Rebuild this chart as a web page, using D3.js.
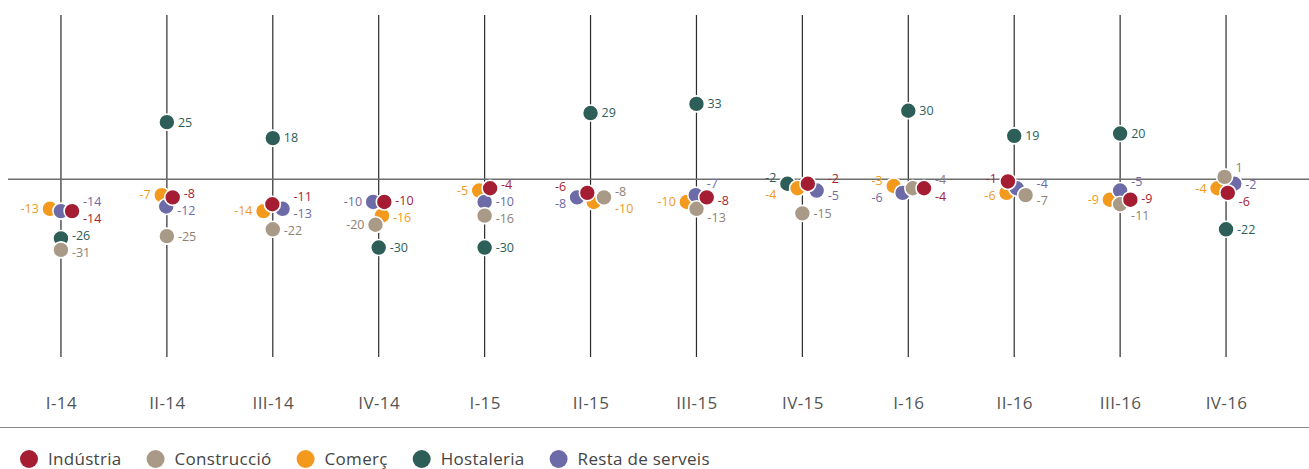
<!DOCTYPE html>
<html lang="ca">
<head>
<meta charset="utf-8">
<script src="https://cdn.jsdelivr.net/npm/d3@7/dist/d3.min.js"></script>
<style>
  html, body { margin: 0; padding: 0; background: #fff; }
  svg { display: block; font-family: "Open Sans", "Noto Sans", sans-serif; }
</style>
</head>
<body>
<svg id="chart" width="1309" height="469"></svg>
<script>
// Quarters shown along the horizontal axis
const quarters = ["I-14", "II-14", "III-14", "IV-14", "I-15", "II-15", "III-15", "IV-15", "I-16", "II-16", "III-16", "IV-16"];

// Balance per sector and quarter
const industria   = [-14, -8, -11, -10, -4, -6, -8, -2, -4, -1, -9, -6];
const construccio = [-31, -25, -22, -20, -16, -8, -13, -15, -4, -7, -11, 1];
const comerc      = [-13, -7, -14, -16, -5, -10, -10, -4, -3, -6, -9, -4];
const hostaleria  = [-26, 25, 18, -30, -30, 29, 33, -2, 30, 19, 20, -22];
const restaServeis = [-14, -12, -13, -10, -10, -8, -7, -5, -6, -4, -5, -2];

const seriesNames = ["Indústria", "Construcció", "Comerç", "Hostaleria", "Resta de serveis"];
const seriesValues = [industria, construccio, comerc, hostaleria, restaServeis];
const seriesColors = ["#a51d32", "#a89a86", "#f39a1e", "#2d5e57", "#6c6aa7"];
const labelColors  = ["#a51d32", "#8c8171", "#f39a1e", "#2d5e57", "#6c6aa7"];
// painting order, back to front
const drawOrder = [3, 2, 4, 1, 0];
// which way each sector leans when dots collide (-1 left, +1 right)
const lean = [1, 0.4, -1, 0, -0.4];

const W = 1309, H = 469;
const svg = d3.select("#chart");

const x = d3.scalePoint().domain(quarters).range([8, 1279]).padding(0.5);
const y = d3.scaleLinear().domain([-78, 72]).range([357, 15]);

// vertical guide per quarter
svg.append("g").selectAll("line")
  .data(quarters).join("line")
  .attr("x1", d => x(d)).attr("x2", d => x(d))
  .attr("y1", y(72)).attr("y2", y(-78))
  .attr("stroke", "#2b2b2b").attr("stroke-width", 1.2);

// zero line
svg.append("line")
  .attr("x1", 8).attr("x2", W)
  .attr("y1", y(0)).attr("y2", y(0))
  .attr("stroke", "#6e6e6e").attr("stroke-width", 1.5);

// quarter labels
const xAxis = d3.axisBottom(x).tickSize(0).tickPadding(0);
const gx = svg.append("g").attr("transform", "translate(0,400)").call(xAxis);
gx.select(".domain").remove();
gx.selectAll("text")
  .attr("font-family", "'Open Sans', sans-serif")
  .attr("font-size", 17).attr("letter-spacing", "0.4px")
  .attr("fill", "#555").attr("dy", "0.55em");

// separator above the legend
svg.append("line")
  .attr("x1", 0).attr("x2", W).attr("y1", 427.5).attr("y2", 427.5)
  .attr("stroke", "#8a8a8a").attr("stroke-width", 1);

// nodes: one per sector and quarter
const nodes = [];
quarters.forEach((q, qi) => {
  drawOrder.forEach(si => {
    const v = seriesValues[si][qi];
    nodes.push({ q, qi, si, v, cx: x(q), x: x(q) + lean[si], fy: y(v) });
  });
});

// spread overlapping dots sideways around their quarter line
const sim = d3.forceSimulation(nodes)
  .force("x", d3.forceX(d => d.cx).strength(0.25))
  .force("collide", d3.forceCollide(5.6).strength(0.6))
  .stop();
for (let i = 0; i < 300; i++) sim.tick();

const dots = svg.append("g");
drawOrder.forEach(si => {
  dots.selectAll(null)
    .data(nodes.filter(n => n.si === si)).join("circle")
    .attr("cx", d => d.x).attr("cy", d => d.y)
    .attr("r", 8)
    .attr("fill", seriesColors[si])
    .attr("stroke", "#fff").attr("stroke-width", 1.6);
});

// value labels: placed on the side the dot moved towards, stacked apart
const LABEL_GAP = 17;
nodes.forEach(n => {
  n.side = (n.x - n.cx) < -1.5 ? -1 : 1;
  n.ly = n.y;
});
quarters.forEach(q => {
  const inQuarter = nodes.filter(n => n.q === q);
  [-1, 1].forEach(side => {
    const group = inQuarter.filter(n => n.side === side).sort((a, b) => a.ly - b.ly);
    for (let it = 0; it < 80; it++) {
      for (let k = 1; k < group.length; k++) {
        const gap = group[k].ly - group[k - 1].ly;
        if (gap < LABEL_GAP) {
          const push = (LABEL_GAP - gap) / 2;
          group[k - 1].ly -= push;
          group[k].ly += push;
        }
      }
    }
    // clear every dot lying at the label's height
    group.forEach(n => {
      const near = inQuarter.filter(m => Math.abs(m.y - n.ly) < 12);
      const edge = side > 0 ? d3.max(near, m => m.x) : d3.min(near, m => m.x);
      n.lx = (edge === undefined ? n.x : edge) + side * 11;
    });
  });
});

svg.append("g").selectAll("text")
  .data(nodes).join("text")
  .attr("x", d => d.lx)
  .attr("y", d => d.ly)
  .attr("dy", "0.35em")
  .attr("text-anchor", d => d.side < 0 ? "end" : "start")
  .attr("font-size", 12.5)
  .attr("fill", d => labelColors[d.si])
  .text(d => `${d.v}`);

// legend
const legend = svg.append("g").attr("transform", "translate(0,459)");
let lx = 29;
seriesNames.forEach((name, si) => {
  legend.append("circle").attr("cx", lx).attr("cy", 0).attr("r", 9)
    .attr("fill", seriesColors[si]);
  const t = legend.append("text").attr("x", lx + 19).attr("y", 0).attr("dy", "0.35em")
    .attr("font-size", 17).attr("letter-spacing", "0.3px")
    .attr("fill", "#444").text(name);
  lx += 19 + t.node().getComputedTextLength() + 34;
});
</script>
</body>
</html>
